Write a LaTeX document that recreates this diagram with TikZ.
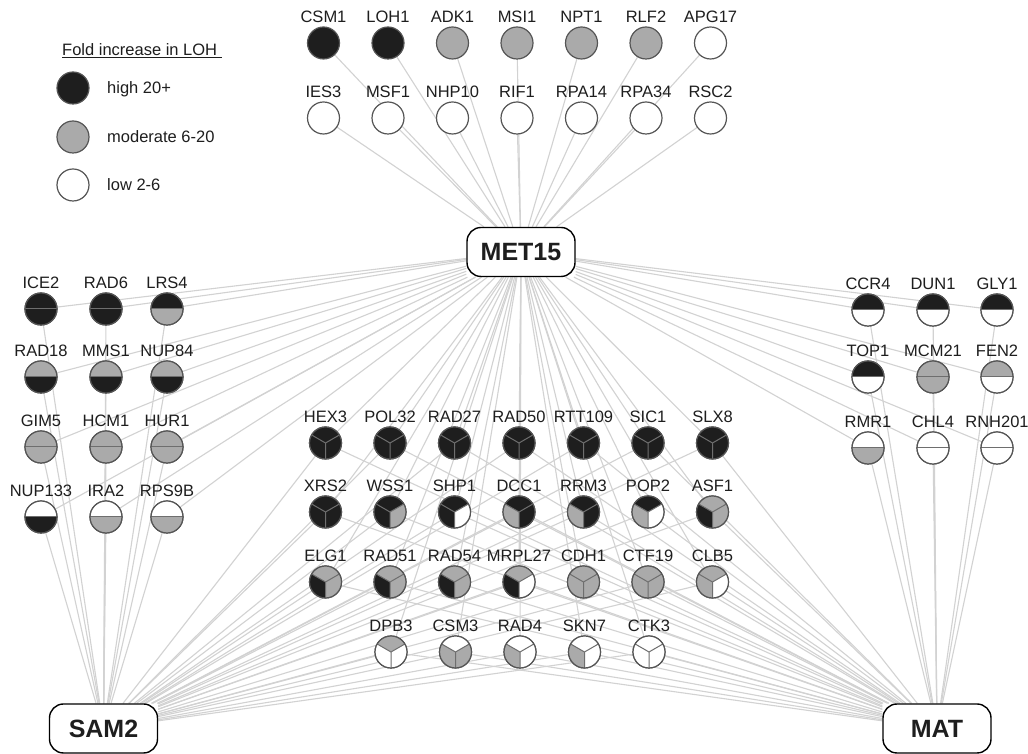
\documentclass[tikz,border=0pt]{standalone}
\usepackage{fontspec}
\setmainfont{Liberation Sans}
\usetikzlibrary{backgrounds}
\definecolor{dk}{RGB}{30,30,30}
\definecolor{md}{RGB}{170,170,170}
\definecolor{rim}{RGB}{85,85,85}
\definecolor{edgec}{RGB}{210,210,210}
\tikzset{
  gene/.style={circle, draw=rim, line width=1.2pt, minimum size=32pt, inner sep=0pt, outer sep=0pt, fill=white},
  lab/.style={font=\fontsize{16.5}{18}\selectfont, inner sep=0pt, text depth=0pt, label distance=4.5pt, text=dk},
  rimln/.style={draw=rim, line width=1.2pt},
  divln/.style={draw=rim!85!white, line width=1pt},
  hub/.style={draw=black, line width=1.4pt, rounded corners=14pt, minimum width=108pt, minimum height=49pt, fill=white, font=\bfseries\fontsize{25}{28}\selectfont, text=dk, inner sep=0pt},
  edgeln/.style={draw=edgec, line width=1.1pt},
  legtext/.style={font=\fontsize{16.5}{18}\selectfont, inner sep=0pt, anchor=base west, text=dk}
}
\newcommand\mono[5]{\node[gene, fill=#5, label={[lab]above:#4}] (#1) at (#2,#3) {};}
\newcommand\halfn[6]{%
  \node[gene, label={[lab]above:#4}] (#1) at (#2,#3) {};
  \fill[#5] (#1.east) arc[start angle=0, end angle=180, radius=16pt] -- cycle;
  \fill[#6] (#1.west) arc[start angle=180, end angle=360, radius=16pt] -- cycle;
  \draw[divln] (#1.west) -- (#1.east);
  \draw[rimln] (#1.center) circle[radius=16pt];
}
\newcommand\trin[7]{%
  \node[gene, label={[lab]above:#4}] (#1) at (#2,#3) {};
  \fill[#5] (#1.center) -- (#1.30) arc[start angle=30, end angle=150, radius=16pt] -- cycle;
  \fill[#6] (#1.center) -- (#1.150) arc[start angle=150, end angle=270, radius=16pt] -- cycle;
  \fill[#7] (#1.center) -- (#1.270) arc[start angle=270, end angle=390, radius=16pt] -- cycle;
  \draw[divln] (#1.center) -- (#1.30) (#1.center) -- (#1.150) (#1.center) -- (#1.270);
  \draw[rimln] (#1.center) circle[radius=16pt];
}
\begin{document}
\begin{tikzpicture}[x=1pt,y=1pt]
\useasboundingbox (0,0) rectangle (1028,754);

% legend
\node[legtext] (legtitle) at (62,698) {\underline{Fold increase in LOH\ }};
\node[gene, fill=dk] (leghigh) at (73,666) {};
\node[gene, fill=md] (legmod) at (73,617) {};
\node[gene, fill=white] (leglow) at (73,569) {};
\node[legtext] (legt1) at (107,660) {high 20+};
\node[legtext] (legt2) at (107,611) {moderate 6-20};
\node[legtext] (legt3) at (107,563) {low 2-6};

% hubs
\node[hub] (MET15) at (521,502) {MET15};
\node[hub] (SAM2) at (103.5,25.5) {SAM2};
\node[hub] (MAT) at (937,25.5) {MAT};

% top group
\mono{CSM1}{323.5}{711}{CSM1}{dk}
\mono{LOH1}{388}{711}{LOH1}{dk}
\mono{ADK1}{452.5}{711}{ADK1}{md}
\mono{MSI1}{517}{711}{MSI1}{md}
\mono{NPT1}{581.5}{711}{NPT1}{md}
\mono{RLF2}{646}{711}{RLF2}{md}
\mono{APG17}{710.5}{711}{APG17}{white}
\mono{IES3}{323.5}{636}{IES3}{white}
\mono{MSF1}{388}{636}{MSF1}{white}
\mono{NHP10}{452.5}{636}{NHP10}{white}
\mono{RIF1}{517}{636}{RIF1}{white}
\mono{RPA14}{581.5}{636}{RPA14}{white}
\mono{RPA34}{646}{636}{RPA34}{white}
\mono{RSC2}{710.5}{636}{RSC2}{white}

% left group
\halfn{ICE2}{41}{445}{ICE2}{dk}{dk}
\halfn{RAD6}{106}{445}{RAD6}{dk}{dk}
\halfn{LRS4}{167}{445}{LRS4}{dk}{md}
\halfn{RAD18}{41}{377}{RAD18}{md}{dk}
\halfn{MMS1}{106}{377}{MMS1}{md}{dk}
\halfn{NUP84}{167}{377}{NUP84}{md}{dk}
\halfn{GIM5}{41}{307}{GIM5}{md}{md}
\halfn{HCM1}{106}{307}{HCM1}{md}{md}
\halfn{HUR1}{167}{307}{HUR1}{md}{md}
\halfn{NUP133}{41}{237}{NUP133}{white}{dk}
\halfn{IRA2}{106}{237}{IRA2}{white}{md}
\halfn{RPS9B}{167}{237}{RPS9B}{white}{md}

% right group
\halfn{CCR4}{868}{444}{CCR4}{dk}{white}
\halfn{DUN1}{933}{444}{DUN1}{dk}{white}
\halfn{GLY1}{997}{444}{GLY1}{dk}{white}
\halfn{TOP1}{868}{377}{TOP1}{dk}{white}
\halfn{MCM21}{933}{377}{MCM21}{md}{md}
\halfn{FEN2}{997}{377}{FEN2}{md}{white}
\halfn{RMR1}{868}{306}{RMR1}{white}{md}
\halfn{CHL4}{933}{306}{CHL4}{white}{white}
\halfn{RNH201}{997}{306}{RNH201}{white}{white}

% middle group
\trin{HEX3}{325.5}{311}{HEX3}{dk}{dk}{dk}
\trin{POL32}{390}{311}{POL32}{dk}{dk}{dk}
\trin{RAD27}{454.5}{311}{RAD27}{dk}{dk}{dk}
\trin{RAD50}{519}{311}{RAD50}{dk}{dk}{dk}
\trin{RTT109}{583.5}{311}{RTT109}{dk}{dk}{dk}
\trin{SIC1}{648}{311}{SIC1}{dk}{dk}{dk}
\trin{SLX8}{712.5}{311}{SLX8}{dk}{dk}{dk}
\trin{XRS2}{325.5}{242}{XRS2}{dk}{dk}{dk}
\trin{WSS1}{390}{242}{WSS1}{dk}{dk}{md}
\trin{SHP1}{454.5}{242}{SHP1}{dk}{dk}{white}
\trin{DCC1}{519}{242}{DCC1}{dk}{md}{dk}
\trin{RRM3}{583.5}{242}{RRM3}{dk}{md}{dk}
\trin{POP2}{648}{242}{POP2}{dk}{md}{white}
\trin{ASF1}{712.5}{242}{ASF1}{md}{dk}{md}
\trin{ELG1}{325.5}{172}{ELG1}{md}{dk}{md}
\trin{RAD51}{390}{172}{RAD51}{md}{dk}{md}
\trin{RAD54}{454.5}{172}{RAD54}{md}{dk}{md}
\trin{MRPL27}{519}{172}{MRPL27}{md}{dk}{white}
\trin{CDH1}{583.5}{172}{CDH1}{md}{md}{md}
\trin{CTF19}{648}{172}{CTF19}{md}{md}{md}
\trin{CLB5}{712.5}{172}{CLB5}{md}{md}{white}
\trin{DPB3}{391}{102}{DPB3}{md}{white}{white}
\trin{CSM3}{455.5}{102}{CSM3}{white}{md}{md}
\trin{RAD4}{520}{102}{RAD4}{white}{md}{white}
\trin{SKN7}{584.5}{102}{SKN7}{white}{md}{white}
\trin{CTK3}{649}{102}{CTK3}{white}{white}{white}

\begin{pgfonlayer}{background}
\fill[white] (0,0) rectangle (1028,754);
\foreach \n in {CSM1,LOH1,ADK1,MSI1,NPT1,RLF2,APG17,IES3,MSF1,NHP10,RIF1,RPA14,RPA34,RSC2}
  \draw[edgeln] (\n) -- (MET15);
\foreach \n in {ICE2,RAD6,LRS4,RAD18,MMS1,NUP84,GIM5,HCM1,HUR1,NUP133,IRA2,RPS9B}
  {\draw[edgeln] (\n) -- (MET15); \draw[edgeln] (\n) -- (SAM2);}
\foreach \n in {CCR4,DUN1,GLY1,TOP1,MCM21,FEN2,RMR1,CHL4,RNH201}
  {\draw[edgeln] (\n) -- (MET15); \draw[edgeln] (\n) -- (MAT);}
\foreach \n in {HEX3,POL32,RAD27,RAD50,RTT109,SIC1,SLX8,XRS2,WSS1,SHP1,DCC1,RRM3,POP2,ASF1,ELG1,RAD51,RAD54,MRPL27,CDH1,CTF19,CLB5,DPB3,CSM3,RAD4,SKN7,CTK3}
  {\draw[edgeln] (\n) -- (MET15); \draw[edgeln] (\n) -- (SAM2); \draw[edgeln] (\n) -- (MAT);}
\end{pgfonlayer}
\end{tikzpicture}
\end{document}
